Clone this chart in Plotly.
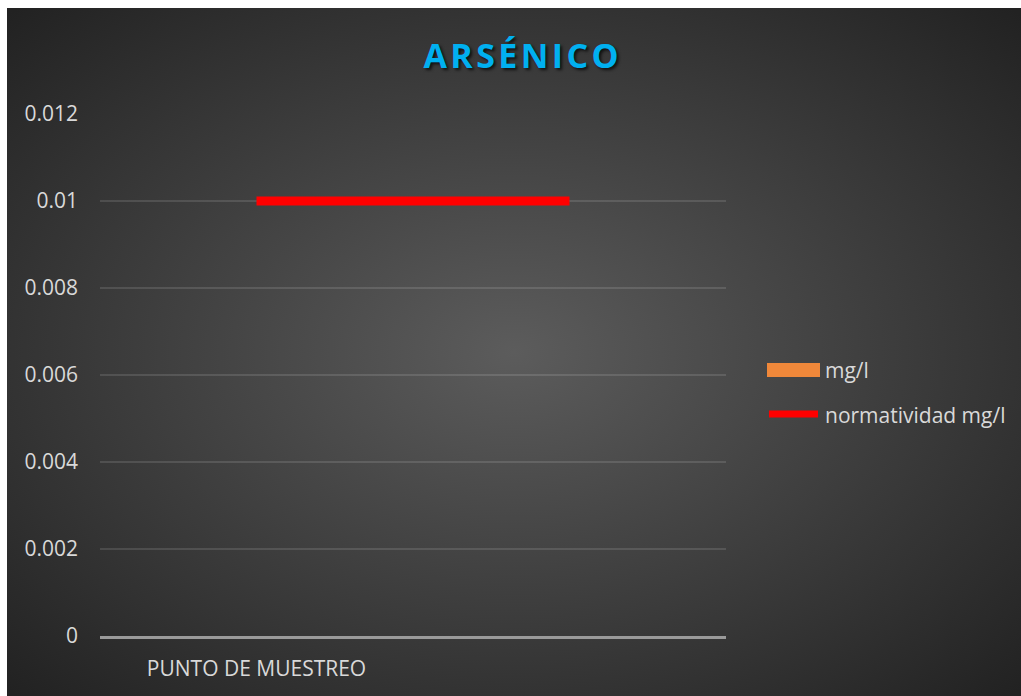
import base64
import plotly.graph_objects as go

# Data
categories = ["PUNTO DE MUESTREO", " "]
mg_l = [0, 0]
normatividad = [0.01, 0.01]
y_ticks = [0, 0.002, 0.004, 0.006, 0.008, 0.01, 0.012]
y_tick_text = ["0", "0.002", "0.004", "0.006", "0.008", "0.01", "0.012"]

W, H = 1021, 696
L, R, T, B = 100, 295, 114, 60
PW, PH = W - L - R, H - T - B


def px(x):
    return (x - L) / PW


def py(y):
    return (H - B - y) / PH


TXT = "#d9d9d9"
FONT = "Open Sans"
FS = 21

fig = go.Figure()
fig.add_trace(go.Bar(
    x=categories, y=mg_l, name="mg/l",
    marker=dict(color="#F0883A", line=dict(width=0)),
    showlegend=False,
))
fig.add_trace(go.Scatter(
    x=categories, y=normatividad, name="normatividad mg/l", mode="lines",
    line=dict(color="#FF0000", width=9),
    showlegend=False,
))

# Dark radial-gradient chart area
svg = (
    '<svg xmlns="http://www.w3.org/2000/svg" width="1014" height="688" '
    'viewBox="0 0 1014 688" preserveAspectRatio="none">'
    '<defs><radialGradient id="g" cx="50%" cy="50%" r="70%">'
    '<stop offset="0" stop-color="#5c5c5c"/>'
    '<stop offset="1" stop-color="#222222"/>'
    '</radialGradient></defs>'
    '<rect width="1014" height="688" fill="url(#g)"/></svg>'
)
bg_src = "data:image/svg+xml;base64," + base64.b64encode(svg.encode()).decode()

shapes = [
    # legend keys
    dict(type="rect", xref="paper", yref="paper",
         x0=px(767), x1=px(820), y0=py(377), y1=py(363),
         fillcolor="#F0883A", line=dict(width=0)),
    dict(type="line", xref="paper", yref="paper",
         x0=px(769), x1=px(818), y0=py(414), y1=py(414),
         line=dict(color="#FF0000", width=7)),
]
annotations = [
    dict(text="mg/l", xref="paper", yref="paper", x=px(823), y=py(370),
         xanchor="left", yanchor="middle", showarrow=False,
         font=dict(family=FONT, size=FS, color=TXT)),
    dict(text="normatividad mg/l", xref="paper", yref="paper", x=px(823), y=py(415),
         xanchor="left", yanchor="middle", showarrow=False,
         font=dict(family=FONT, size=FS, color=TXT)),
]

fig.update_layout(
    width=W, height=H,
    margin=dict(l=L, r=R, t=T, b=B, pad=0),
    paper_bgcolor="white",
    plot_bgcolor="rgba(0,0,0,0)",
    images=[dict(source=bg_src, xref="paper", yref="paper",
                 x=px(7), y=py(8), sizex=1014 / PW, sizey=688 / PH,
                 xanchor="left", yanchor="top", sizing="stretch", layer="below")],
    title=dict(
        text="A\u200aR\u200aS\u200aÉ\u200aN\u200aI\u200aC\u200aO",
        x=521 / W, xanchor="center", xref="container",
        y=1 - 56 / H, yanchor="middle", yref="container",
        font=dict(family=FONT, size=34, color="#00B0F0", weight="bold",
                  shadow="2px 2px 3px rgba(0,0,0,0.7)"),
    ),
    shapes=shapes,
    annotations=annotations,
    showlegend=False,
    bargap=0.5,
    xaxis=dict(
        type="category", range=[-0.5, 1.5],
        showgrid=False, zeroline=False,
        showline=True, linecolor="#9a9a9a", linewidth=2.5,
        ticks="", ticklabelstandoff=12,
        tickfont=dict(family=FONT, size=FS, color=TXT),
    ),
    yaxis=dict(
        range=[0, 0.012], tickvals=y_ticks, ticktext=y_tick_text,
        showgrid=True, gridcolor="rgba(255,255,255,0.12)", gridwidth=1.5,
        zeroline=False, showline=False, ticks="", ticklabelstandoff=21,
        tickfont=dict(family=FONT, size=FS, color=TXT),
    ),
)

fig.write_html("out.html")
